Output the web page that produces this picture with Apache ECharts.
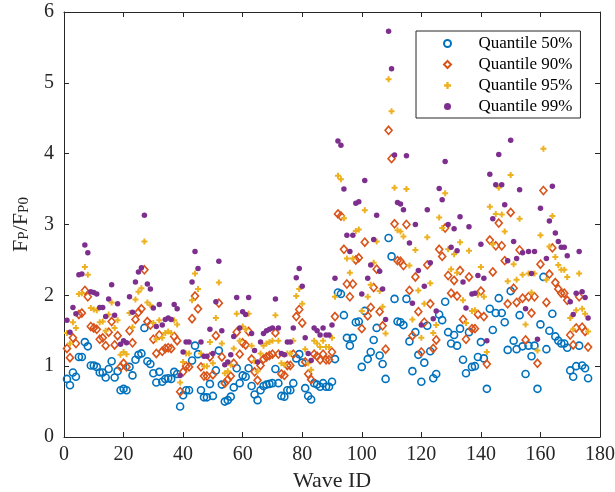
<!DOCTYPE html>
<html>
<head>
<meta charset="utf-8">
<script src="https://cdn.jsdelivr.net/npm/echarts@6/dist/echarts.min.js"></script>
<style>
  html, body { margin: 0; padding: 0; background: #fff; }
  #chart { width: 615px; height: 492px; }
</style>
</head>
<body>
<div id="chart"></div>
<script>
// Peak-pressure ratio quantiles per wave (waves 1..176)
const seriesNames = ['Quantile 50%', 'Quantile 90%', 'Quantile 95%', 'Quantile 99%'];
const xTicks = [0, 20, 40, 60, 80, 100, 120, 140, 160, 180];
const yTicks = [0, 1, 2, 3, 4, 5, 6];

const q50 = [
  0.82, 0.73, 0.91, 0.85, 1.13, 1.13, 1.34, 1.28, 1.01, 1.01,
  0.99, 0.91, 0.91, 0.84, 0.96, 1.07, 0.84, 0.93, 0.66, 0.68,
  0.66, 0.99, 0.87, 1.09, 1.16, 1.18, 1.54, 1.07, 1.03, 0.90,
  0.77, 0.92, 0.78, 0.82, 0.83, 0.82, 0.92, 0.89, 0.43, 0.59,
  0.66, 0.66, 1.08, 1.29, 1.17, 0.66, 0.56, 0.56, 0.75, 0.58,
  0.94, 1.22, 0.74, 0.50, 0.52, 0.57, 0.70, 0.97, 0.76, 0.87,
  0.85, 0.97, 0.72, 0.60, 0.52, 0.66, 0.72, 0.74, 0.75, 0.76,
  0.96, 0.76, 0.58, 0.57, 0.66, 0.66, 0.76, 1.11, 1.17, 1.05,
  0.69, 0.58, 0.53, 0.76, 0.74, 0.71, 0.76, 0.71, 0.71, 0.78,
  1.10, 2.04, 2.02, 1.72, 1.40, 1.29, 1.40, 1.62, 1.63, 0.99,
  1.78, 1.10, 1.20, 1.37, 1.54, 1.15, 1.03, 0.82, 2.81, 2.55,
  1.95, 1.63, 1.62, 1.58, 1.95, 1.35, 0.93, 1.48, 1.16, 0.78,
  1.05, 1.57, 1.21, 0.83, 0.89, 1.73, 1.65, 1.91, 1.48, 1.32,
  1.44, 1.29, 1.53, 1.09, 0.90, 1.48, 0.99, 1.00, 1.13, 1.34,
  1.11, 0.68, 1.81, 1.51, 1.75, 1.96, 1.75, 1.62, 1.23, 2.06,
  1.36, 1.24, 1.72, 1.28, 0.89, 1.29, 1.14, 1.29, 0.68, 1.59,
  2.26, 1.24, 1.50, 1.74, 1.42, 1.36, 1.32, 1.32, 1.26, 0.94,
  0.85, 1.00, 1.29, 1.01, 0.97, 0.83
];

const q90 = [
  1.25, 1.12, 1.40, 1.32, 1.73, 1.75, 2.07, 1.98, 1.56, 1.54,
  1.52, 1.38, 1.40, 1.29, 1.48, 1.63, 1.30, 1.43, 0.99, 1.04,
  0.99, 1.50, 1.33, 1.66, 1.76, 1.81, 2.36, 1.63, 1.58, 1.38,
  1.18, 1.44, 1.21, 1.25, 1.26, 1.25, 1.42, 1.36, 0.64, 0.92,
  1.00, 0.99, 1.67, 1.99, 1.81, 0.99, 0.86, 0.86, 1.13, 0.88,
  1.43, 1.89, 1.13, 0.76, 0.81, 0.86, 1.04, 1.48, 1.17, 1.33,
  1.30, 1.49, 1.10, 0.92, 0.80, 1.01, 1.10, 1.13, 1.15, 1.17,
  1.47, 1.17, 0.89, 0.87, 1.01, 1.01, 1.17, 1.70, 1.80, 1.61,
  1.06, 0.89, 0.81, 1.17, 1.14, 1.09, 1.17, 1.09, 1.09, 1.20,
  1.70, 3.15, 3.12, 2.65, 2.16, 1.98, 2.16, 2.50, 2.53, 1.53,
  2.75, 1.71, 1.83, 2.11, 2.37, 1.77, 1.57, 1.24, 4.33, 3.93,
  3.01, 2.49, 2.48, 2.42, 3.00, 2.07, 1.43, 2.26, 1.77, 1.20,
  1.62, 2.43, 1.88, 1.25, 1.37, 2.65, 2.55, 2.95, 2.28, 2.03,
  2.21, 1.99, 2.35, 1.66, 1.38, 2.26, 1.53, 1.53, 1.73, 2.06,
  1.70, 1.03, 2.78, 2.33, 2.70, 3.02, 2.70, 2.49, 1.88, 3.17,
  2.10, 1.90, 2.64, 1.96, 1.37, 1.98, 1.75, 1.98, 1.04, 2.44,
  3.48, 1.90, 2.30, 2.67, 2.18, 2.09, 2.03, 2.03, 1.93, 1.44,
  1.30, 1.54, 1.98, 1.55, 1.49, 1.27
];

const q95 = [
  1.47, 1.32, 1.62, 1.54, 2.02, 2.03, 2.40, 2.29, 1.82, 1.80,
  1.79, 1.62, 1.63, 1.50, 1.73, 1.90, 1.54, 1.65, 1.16, 1.20,
  1.17, 1.75, 1.55, 1.94, 2.05, 2.10, 2.76, 1.90, 1.86, 1.61,
  1.38, 1.65, 1.40, 1.47, 1.49, 1.47, 1.65, 1.59, 0.77, 1.06,
  1.18, 1.18, 1.93, 2.31, 2.09, 1.18, 1.00, 1.00, 1.34, 1.04,
  1.68, 2.18, 1.32, 0.90, 0.93, 1.02, 1.25, 1.74, 1.36, 1.56,
  1.52, 1.74, 1.29, 1.07, 0.93, 1.18, 1.29, 1.32, 1.34, 1.36,
  1.72, 1.36, 1.04, 1.02, 1.18, 1.18, 1.36, 1.99, 2.09, 1.88,
  1.24, 1.04, 0.95, 1.36, 1.32, 1.27, 1.36, 1.27, 1.27, 1.40,
  1.98, 3.69, 3.64, 3.09, 2.52, 2.32, 2.52, 2.91, 2.93, 1.78,
  3.20, 1.98, 2.15, 2.46, 2.76, 2.06, 1.84, 1.46, 5.05, 4.60,
  3.52, 2.92, 2.90, 2.83, 3.50, 2.42, 1.66, 2.64, 2.07, 1.40,
  1.88, 2.82, 2.17, 1.47, 1.58, 3.10, 2.95, 3.44, 2.65, 2.37,
  2.58, 2.32, 2.75, 1.93, 1.61, 2.63, 1.78, 1.79, 2.01, 2.40,
  1.98, 1.20, 3.25, 2.72, 3.15, 3.52, 3.14, 2.90, 2.20, 3.70,
  2.44, 2.22, 3.08, 2.29, 1.59, 2.31, 2.04, 2.31, 1.22, 2.85,
  4.07, 2.22, 2.69, 3.12, 2.54, 2.43, 2.36, 2.36, 2.26, 1.68,
  1.52, 1.79, 2.31, 1.81, 1.74, 1.49
];

const q99 = [
  1.65, 1.48, 1.83, 1.74, 2.29, 2.30, 2.71, 2.60, 2.05, 2.04,
  2.02, 1.83, 1.83, 1.70, 1.95, 2.15, 1.72, 1.88, 1.31, 1.36,
  1.33, 1.98, 1.76, 2.19, 2.33, 2.39, 3.13, 2.16, 2.09, 1.82,
  1.56, 1.87, 1.58, 1.66, 1.68, 1.66, 1.87, 1.81, 0.87, 1.20,
  1.34, 1.34, 2.19, 2.62, 2.38, 1.34, 1.14, 1.14, 1.52, 1.18,
  1.91, 2.48, 1.50, 1.02, 1.06, 1.16, 1.42, 1.97, 1.54, 1.77,
  1.73, 1.97, 1.46, 1.22, 1.06, 1.34, 1.46, 1.50, 1.52, 1.54,
  1.95, 1.54, 1.18, 1.16, 1.34, 1.34, 1.54, 2.25, 2.38, 2.13,
  1.40, 1.18, 1.08, 1.54, 1.50, 1.44, 1.54, 1.44, 1.44, 1.58,
  2.24, 4.18, 4.12, 3.50, 2.85, 2.62, 2.85, 3.30, 3.32, 2.02,
  3.62, 2.24, 2.43, 2.79, 3.13, 2.34, 2.09, 1.66, 5.73, 5.20,
  3.98, 3.31, 3.29, 3.21, 3.97, 2.74, 1.89, 3.00, 2.35, 1.58,
  2.13, 3.21, 2.46, 1.67, 1.78, 3.51, 3.35, 3.89, 3.00, 2.68,
  2.94, 2.63, 3.11, 2.19, 1.82, 2.97, 2.02, 2.03, 2.28, 2.72,
  2.24, 1.36, 3.71, 3.08, 3.56, 3.99, 3.56, 3.28, 2.49, 4.19,
  2.76, 2.52, 3.49, 2.60, 1.81, 2.62, 2.31, 2.62, 1.38, 3.23,
  4.60, 2.52, 3.05, 3.54, 2.88, 2.76, 2.68, 2.68, 2.56, 1.91,
  1.73, 2.03, 2.62, 2.05, 1.97, 1.68
];

// wave identifiers run 1..N
const waveIds = q50.map((_, i) => i + 1);

const FONT = '"Liberation Serif", "DejaVu Serif", serif';
const INK = '#262626';
const PLUS = 'path://M2,0H4V2H6V4H4V6H2V4H0V2H2Z';
const DIAMOND = 'path://M4,0L8,4L4,8L0,4Z';

function pairs(vals) { return waveIds.map((id, i) => [id, vals[i]]); }

const chart = echarts.init(document.getElementById('chart'), null, { renderer: 'canvas' });

const axisCommon = {
  type: 'value',
  axisLine: { show: true, onZero: false, lineStyle: { color: INK, width: 1 } },
  axisTick: { show: true, inside: true, length: 5, lineStyle: { color: INK, width: 1 } },
  splitLine: { show: false }
};

chart.setOption({
  animation: false,
  backgroundColor: '#fff',
  grid: { left: 64, right: 15, top: 12, bottom: 55, containLabel: false, outerBoundsMode: 'none' },
  xAxis: [
    Object.assign({}, axisCommon, {
      position: 'bottom', min: xTicks[0], max: xTicks[xTicks.length - 1], interval: 20,
      axisLabel: { fontFamily: FONT, fontSize: 20, color: INK, margin: 8 },
      name: 'Wave ID', nameLocation: 'middle', nameGap: 33,
      nameTextStyle: { fontFamily: FONT, fontSize: 22, color: INK }
    }),
    Object.assign({}, axisCommon, {
      position: 'top', min: xTicks[0], max: xTicks[xTicks.length - 1], interval: 20,
      axisLabel: { show: false }
    })
  ],
  yAxis: [
    Object.assign({}, axisCommon, {
      position: 'left', min: yTicks[0], max: yTicks[yTicks.length - 1], interval: 1,
      axisLabel: { fontFamily: FONT, fontSize: 20, color: INK, margin: 10 },
      name: '{m|F}{s|P}{m|/F}{s|P0}', nameLocation: 'middle', nameGap: 32, nameRotate: 90,
      nameTextStyle: {
        fontFamily: FONT, fontSize: 22, color: INK,
        rich: {
          m: { fontFamily: FONT, fontSize: 22, color: INK, lineHeight: 30, verticalAlign: 'bottom' },
          s: { fontFamily: FONT, fontSize: 15, color: INK, lineHeight: 15, verticalAlign: 'bottom' }
        }
      }
    }),
    Object.assign({}, axisCommon, {
      position: 'right', min: yTicks[0], max: yTicks[yTicks.length - 1], interval: 1,
      axisLabel: { show: false }
    })
  ],
  legend: {
    orient: 'vertical', left: 416, top: 31, z: 10,
    padding: [4, 8, 3, 27], itemGap: 4, itemWidth: 52, itemHeight: 7,
    backgroundColor: '#fff', borderColor: INK, borderWidth: 1,
    textStyle: { fontFamily: FONT, fontSize: 17, color: '#000' },
    data: [
      { name: seriesNames[0] },
      { name: seriesNames[1], icon: DIAMOND },
      { name: seriesNames[2] },
      { name: seriesNames[3] }
    ]
  },
  series: [
    {
      name: seriesNames[0], type: 'scatter', data: pairs(q50), z: 2,
      symbol: 'circle', symbolSize: 7,
      itemStyle: { color: 'rgba(0,0,0,0)', borderColor: '#0072BD', borderWidth: 1.6, opacity: 1 }
    },
    {
      name: seriesNames[1], type: 'scatter', data: pairs(q90), z: 2,
      symbol: 'diamond', symbolSize: [7, 8],
      itemStyle: { color: 'rgba(0,0,0,0)', borderColor: '#D95319', borderWidth: 1.6, opacity: 1 }
    },
    {
      name: seriesNames[2], type: 'scatter', data: pairs(q95), z: 2,
      symbol: PLUS, symbolSize: 6,
      itemStyle: { color: '#EDB120', opacity: 1 }
    },
    {
      name: seriesNames[3], type: 'scatter', data: pairs(q99), z: 2,
      symbol: 'circle', symbolSize: 5.5,
      itemStyle: { color: '#7E2F8E', opacity: 1 }
    }
  ]
});
</script>
</body>
</html>
